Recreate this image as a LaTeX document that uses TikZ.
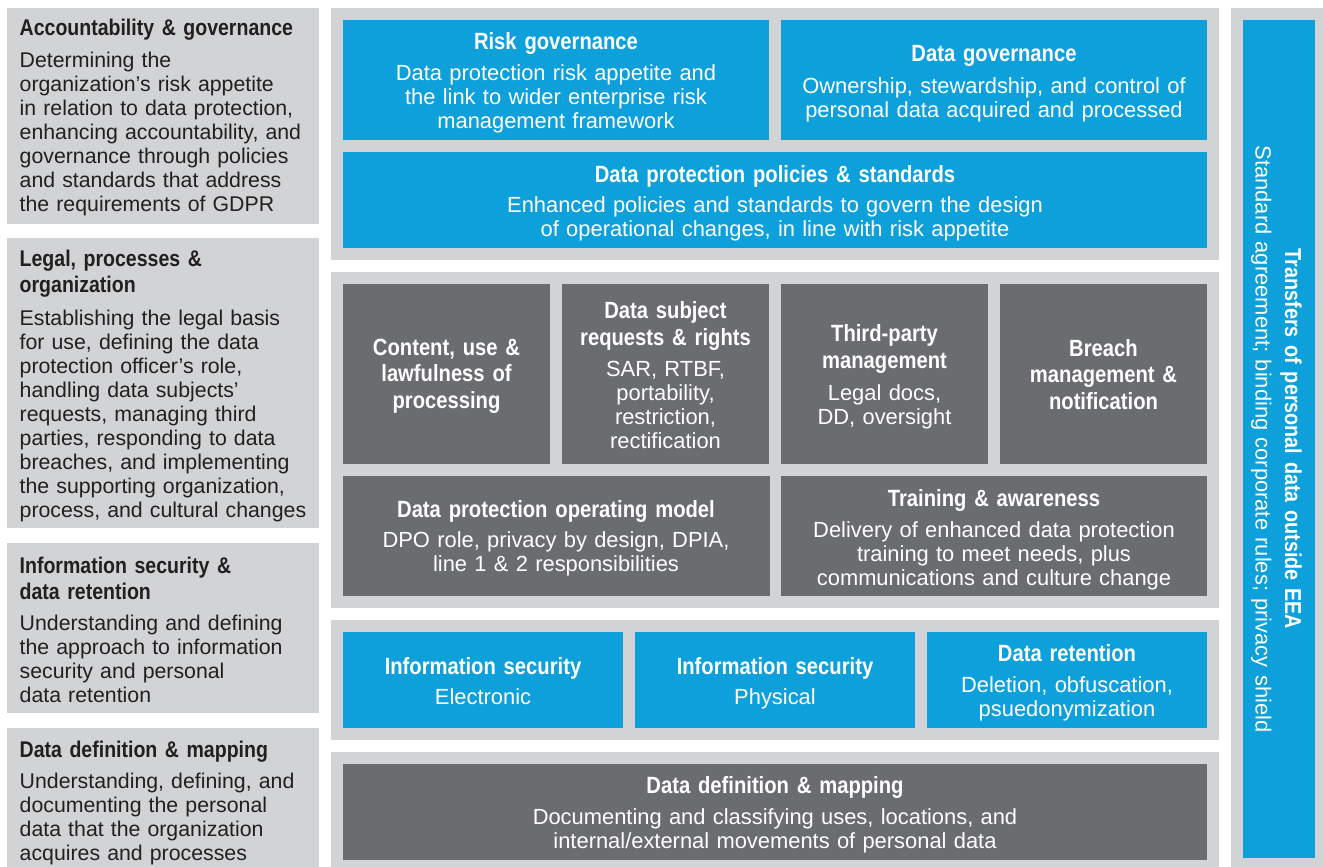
\documentclass[tikz,border=0pt]{standalone}
\usepackage{fontspec}
\setmainfont{Liberation Sans}
\newfontfamily\headfont{Liberation Sans}[FakeStretch=0.86]
\definecolor{panelgray}{HTML}{D1D3D4}
\definecolor{boxblue}{HTML}{0EA0DA}
\definecolor{boxgrey}{HTML}{6B6C70}
\definecolor{lefttext}{HTML}{231F20}
\tikzset{
  panel/.style={fill=panelgray, draw=none, anchor=north west, inner sep=0pt, outer sep=0pt},
  bluebox/.style={fill=boxblue, draw=none, anchor=north west, inner sep=0pt, outer sep=0pt},
  greybox/.style={fill=boxgrey, draw=none, anchor=north west, inner sep=0pt, outer sep=0pt},
  ttl/.style={anchor=base, align=center, text=white, inner sep=0pt, text width=#1,
    font=\headfont\bfseries\fontsize{23.5}{26.7}\selectfont},
  bdy/.style={anchor=base, align=center, text=white, inner sep=0pt, text width=#1,
    font=\fontsize{21.9}{24.2}\selectfont},
  lttl/.style={anchor=base west, align=left, text=lefttext, inner sep=0pt, text width=300pt,
    font=\headfont\bfseries\fontsize{22.7}{26.3}\selectfont},
  lbdy/.style={anchor=base west, align=left, text=lefttext, inner sep=0pt, text width=300pt,
    font=\fontsize{21.3}{24.1}\selectfont},
}
\begin{document}
\begin{tikzpicture}[x=1pt,y=-1pt]
\useasboundingbox (0,0) rectangle (1323,867);
\fill[white] (0,0) rectangle (1323,867);

% ---------- left column ----------
\node[panel, minimum width=312pt, minimum height=215.5pt] (lp1) at (7,8) {};
\node[panel, minimum width=312pt, minimum height=290pt] (lp2) at (7,238) {};
\node[panel, minimum width=312pt, minimum height=170pt] (lp3) at (7,543.3) {};
\node[panel, minimum width=312pt, minimum height=139pt] (lp4) at (7,728) {};

\node[lttl] (lt1) at (19.5,36) {Accountability \& governance};
\node[lbdy] (lb1) at (19.5,67) {Determining the\\organization’s risk appetite\\in relation to data protection,\\enhancing accountability, and\\governance through policies\\and standards that address\\the requirements of GDPR};

\node[lttl] (lt2) at (19.5,266.5) {Legal, processes \&\\organization};
\node[lbdy] (lb2) at (19.5,325) {Establishing the legal basis\\for use, defining the data\\protection officer’s role,\\handling data subjects’\\requests, managing third\\parties, responding to data\\breaches, and implementing\\the supporting organization,\\process, and cultural changes};

\node[lttl] (lt3) at (19.5,573) {Information security \&\\data retention};
\node[lbdy] (lb3) at (19.5,630) {Understanding and defining\\the approach to information\\security and personal\\data retention};

\node[lttl] (lt4) at (19.5,757) {Data definition \& mapping};
\node[lbdy] (lb4) at (19.5,788.5) {Understanding, defining, and\\documenting the personal\\data that the organization\\acquires and processes};

% ---------- middle panels ----------
\node[panel, minimum width=888pt, minimum height=251.5pt] (pa) at (331,8) {};
\node[panel, minimum width=888pt, minimum height=335.5pt] (pb) at (331,272) {};
\node[panel, minimum width=888pt, minimum height=119.5pt] (pc) at (331,620) {};
\node[panel, minimum width=888pt, minimum height=115pt] (pd) at (331,752) {};

% panel A
\node[bluebox, minimum width=426pt, minimum height=119.5pt] (rg) at (343,20) {};
\node[bluebox, minimum width=426pt, minimum height=119.5pt] (dg) at (781,20) {};
\node[bluebox, minimum width=864pt, minimum height=95.5pt] (dpp) at (343,152) {};
\node[ttl=420pt] (rgt) at (556,50) {Risk governance};
\node[bdy=420pt] (rgb) at (556,80.5) {Data protection risk appetite and\\the link to wider enterprise risk\\management framework};
\node[ttl=420pt] (dgt) at (994,61.7) {Data governance};
\node[bdy=420pt] (dgb) at (994,93) {Ownership, stewardship, and control of\\personal data acquired and processed};
\node[ttl=800pt] (dppt) at (775,182.3) {Data protection policies \& standards};
\node[bdy=800pt] (dppb) at (775,212.5) {Enhanced policies and standards to govern the design\\of operational changes, in line with risk appetite};

% panel B
\node[greybox, minimum width=207pt, minimum height=179.5pt] (cu) at (343,284) {};
\node[greybox, minimum width=207pt, minimum height=179.5pt] (ds) at (562,284) {};
\node[greybox, minimum width=207pt, minimum height=179.5pt] (tp) at (781,284) {};
\node[greybox, minimum width=207pt, minimum height=179.5pt] (br) at (1000,284) {};
\node[greybox, minimum width=426.5pt, minimum height=119.5pt] (om) at (343,476) {};
\node[greybox, minimum width=426pt, minimum height=119.5pt] (tr) at (781,476) {};

\node[ttl=205pt] (cut) at (446.5,355) {Content, use \&\\lawfulness of\\processing};
\node[ttl=205pt] (dst) at (665.5,318.5) {Data subject\\requests \& rights};
\node[bdy=205pt] (dsb) at (665.5,376) {SAR, RTBF,\\portability,\\restriction,\\rectification};
\node[ttl=205pt] (tpt) at (884.5,341.7) {Third-party\\management};
\node[bdy=205pt] (tpb) at (884.5,400.5) {Legal docs,\\DD, oversight};
\node[ttl=205pt] (brt) at (1103.5,356) {Breach\\management \&\\notification};
\node[ttl=420pt] (omt) at (556,517) {Data protection operating model};
\node[bdy=420pt] (omb) at (556,547.5) {DPO role, privacy by design, DPIA,\\line 1 \& 2 responsibilities};
\node[ttl=420pt] (trt) at (994,506.5) {Training \& awareness};
\node[bdy=420pt] (trb) at (994,537) {Delivery of enhanced data protection\\training to meet needs, plus\\communications and culture change};

% panel C
\node[bluebox, minimum width=280pt, minimum height=95.5pt] (ise) at (343,632) {};
\node[bluebox, minimum width=280pt, minimum height=95.5pt] (isp) at (635,632) {};
\node[bluebox, minimum width=280pt, minimum height=95.5pt] (dr) at (927,632) {};
\node[ttl=276pt] (iset) at (483,674) {Information security};
\node[bdy=276pt] (iseb) at (483,704) {Electronic};
\node[ttl=276pt] (ispt) at (775,674) {Information security};
\node[bdy=276pt] (ispb) at (775,704) {Physical};
\node[ttl=276pt] (drt) at (1067,661.7) {Data retention};
\node[bdy=276pt] (drb) at (1067,692.5) {Deletion, obfuscation,\\psuedonymization};

% panel D
\node[greybox, minimum width=864pt, minimum height=95.5pt] (dd) at (343,764) {};
\node[ttl=800pt] (ddt) at (775,793.3) {Data definition \& mapping};
\node[bdy=800pt] (ddb) at (775,824) {Documenting and classifying uses, locations, and\\internal/external movements of personal data};

% ---------- right column ----------
\node[panel, minimum width=92pt, minimum height=859pt] (rp) at (1231,8) {};
\node[bluebox, minimum width=72pt, minimum height=838pt] (tx) at (1243,20) {};
\node[ttl=760pt, rotate=-90, font=\headfont\bfseries\fontsize{23}{26.7}\selectfont] (txt) at (1285,439) {Transfers of personal data outside EEA};
\node[bdy=760pt, rotate=-90] (txb) at (1255.5,439) {Standard agreement; binding corporate rules; privacy shield};
\end{tikzpicture}
\end{document}
